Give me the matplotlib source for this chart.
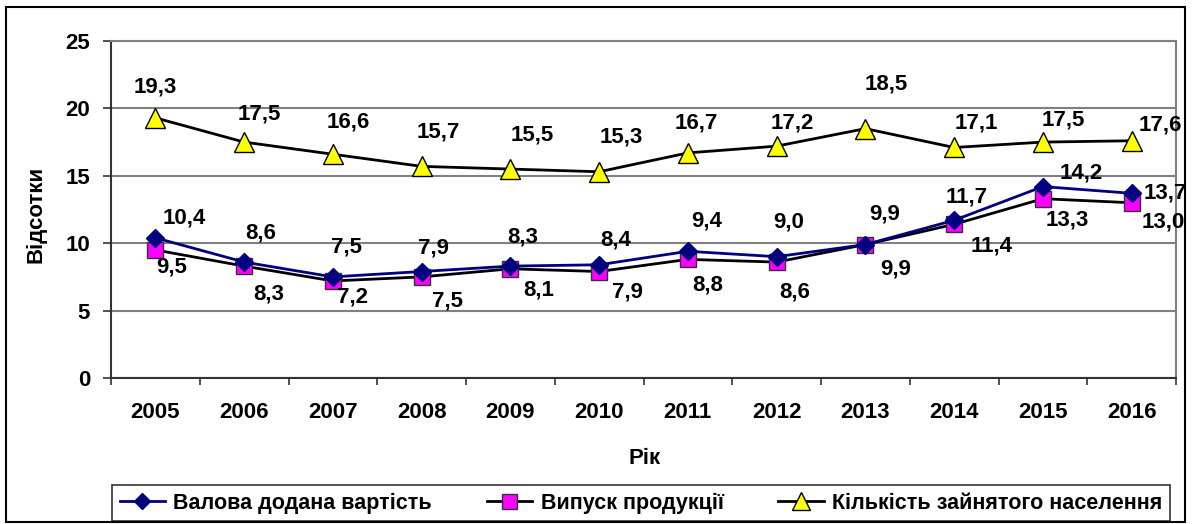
import matplotlib
matplotlib.use("Agg")
import matplotlib.pyplot as plt
from matplotlib.patches import Rectangle
from matplotlib.ticker import FixedLocator

years = ["2005", "2006", "2007", "2008", "2009", "2010", "2011", "2012", "2013", "2014", "2015", "2016"]
gva = [10.4, 8.6, 7.5, 7.9, 8.3, 8.4, 9.4, 9.0, 9.9, 11.7, 14.2, 13.7]
output = [9.5, 8.3, 7.2, 7.5, 8.1, 7.9, 8.8, 8.6, 9.9, 11.4, 13.3, 13.0]
employed = [19.3, 17.5, 16.6, 15.7, 15.5, 15.3, 16.7, 17.2, 18.5, 17.1, 17.5, 17.6]
names = ["Валова додана вартість", "Випуск продукції", "Кількість зайнятого населення"]

# label offsets in pixels (dx right, dy up) -- styling only
off_gva = [(29, 20), (17, 29), (14, 30), (12, 24), (12, 29), (17, 25), (19, 30), (12, 35), (19, 31), (13, 23), (38, 14), (34, 0)]
off_out = [(16, -17), (25, -28), (20, -16), (26, -24), (28, -21), (28, -20), (20, -26), (18, -30), (30, -24), (37, -22), (24, -21), (32, -19)]
off_emp = [(0, 31), (15, 28), (15, 32), (17, 34), (22, 34), (22, 35), (8, 30), (16, 23), (21, 45), (22, 24), (20, 22), (29, 16)]

plt.rcParams['font.family'] = ['Liberation Sans', 'DejaVu Sans']
plt.rcParams['font.weight'] = 'bold'
FS = 16

W, H = 1192, 524
fig = plt.figure(figsize=(W / 100, H / 100), dpi=100)
ax = fig.add_axes([111 / W, 1 - 378 / H, (1176 - 111) / W, (378 - 41) / H])

x = list(range(len(years)))
l1, = ax.plot(x, gva, color='#000080', lw=2, marker='D', ms=9, mfc='#000080', mec='#000080', zorder=5)
l2, = ax.plot(x, output, color='black', lw=2, marker='s', ms=12, mfc='#FF00FF', mec='#333333', mew=1, zorder=4)
l3, = ax.plot(x, employed, color='black', lw=2, marker='^', ms=14, mfc='#FFFF00', mec='black', mew=1, zorder=4)

def fmt(v):
    return f"{v:.1f}".replace('.', ',')

for series, offs in ((gva, off_gva), (output, off_out), (employed, off_emp)):
    for xi, v, (dx, dy) in zip(x, series, offs):
        ax.annotate(fmt(v), (xi, v), xytext=(dx, dy), textcoords='offset pixels',
                    ha='center', va='center', fontsize=FS, fontweight='bold',
                    annotation_clip=False, zorder=6)

ax.set_xlim(-0.5, len(years) - 0.5)
ax.set_ylim(0, 25)
ax.set_yticks([0, 5, 10, 15, 20, 25])
ax.yaxis.grid(True, color='#808080', lw=1.5)
ax.set_axisbelow(True)
ax.set_xticks(x)
ax.set_xticklabels(years)
ax.xaxis.set_minor_locator(FixedLocator([i - 0.5 for i in range(len(years) + 1)]))
ax.tick_params(axis='x', which='major', length=0, pad=17, labelsize=FS)
ax.tick_params(axis='x', which='minor', length=5, width=1.2, color='#333333', direction='out')
ax.tick_params(axis='y', length=6, width=1.2, color='#333333', pad=9, labelsize=FS)
for lab in ax.get_xticklabels() + ax.get_yticklabels():
    lab.set_fontweight('bold')
for s in ('left', 'bottom'):
    ax.spines[s].set_color('#333333')
    ax.spines[s].set_linewidth(1.5)
for s in ('right', 'top'):
    ax.spines[s].set_color('#808080')
    ax.spines[s].set_linewidth(1.5)

fig.text(36 / W, 1 - 214 / H, "Відсотки", rotation=90, ha='center', va='center', fontsize=FS, fontweight='bold')
fig.text(645 / W, 1 - 458 / H, "Рік", ha='center', va='center', fontsize=FS, fontweight='bold')

leg = fig.legend([l1, l2, l3], names, loc='center', ncol=3, mode='expand',
                 bbox_to_anchor=(112 / W, 1 - 521 / H, (1170 - 112) / W, 36 / H),
                 frameon=True, fancybox=False, edgecolor='black',
                 handlelength=2.1, handletextpad=0.4, borderaxespad=0, borderpad=0.35,
                 prop={'weight': 'bold', 'size': 15.5})
leg.get_frame().set_linewidth(1.2)
for h in leg.legend_handles:
    h.set_markersize(h.get_markersize() * 0.9)

fig.add_artist(Rectangle((6 / W, 1 - 522 / H), (1185 - 6) / W, (522 - 7) / H,
                         transform=fig.transFigure, fill=False, edgecolor='black', lw=1.5))

fig.savefig("out.png", dpi=100)
